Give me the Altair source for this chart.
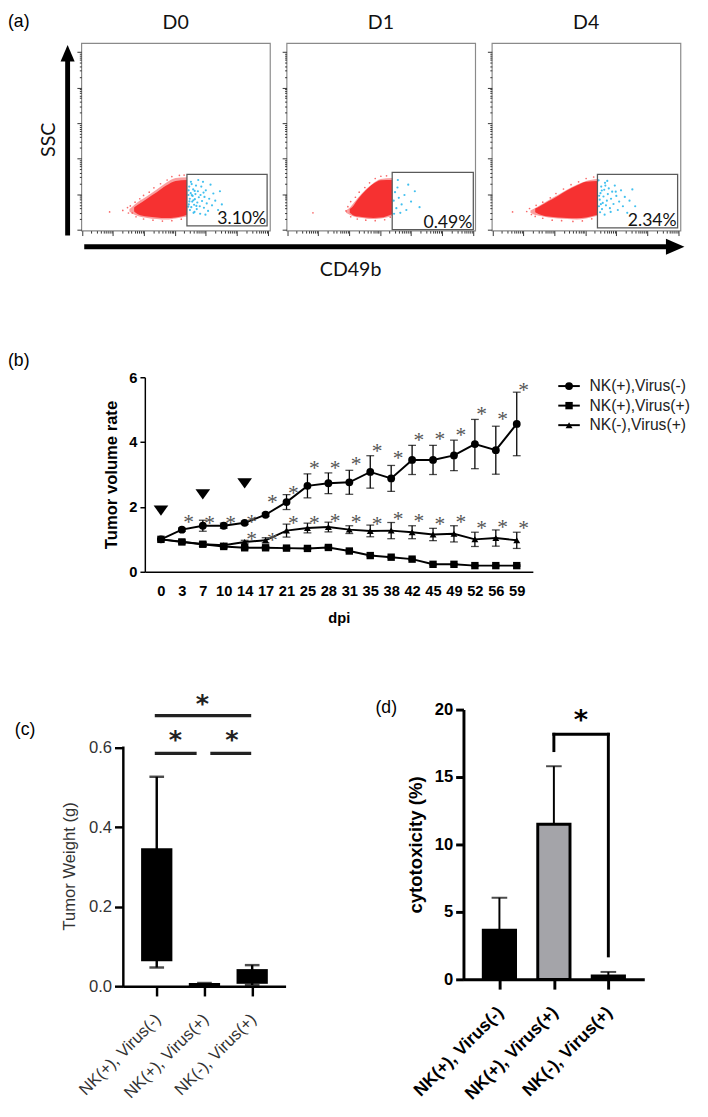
import json
import altair as alt
import pandas as pd

FONT = "Liberation Sans"
FLOW_FONT = "Lato"
RED = "#f52b2b"
BLUE = "#38bdee"

# ================= (a) flow cytometry =================
FLOW_TITLES = ["D0", "D1", "D4"]
FLOW_PCT = ["3.10%", "0.49%", "2.34%"]
GATE_X1 = [56.0, 56.0, 56.0]
GATE_X2 = [98.5, 99.0, 98.5]
GATE_Y1 = [2.6, 0.5, 1.5]
GATE_Y2 = [30.0, 31.0, 30.0]

FLOW_X_MAJOR = [0.3, 16.8, 33.2, 49.6, 66.0, 82.6, 99.2]
FLOW_Y_MAJOR = [0.5, 19.4, 38.4, 57.3, 76.3, 95.2]
LOG_MINOR = [0.301, 0.477, 0.602, 0.699, 0.778, 0.845, 0.903, 0.954]

# outer (sparse) and inner (dense) envelope of the red population
HALO_X = [[25.5, 27, 30, 35, 40, 45, 50, 56], [31.5, 33, 36, 40, 45, 50, 56],
          [20.5, 22, 26, 30, 35, 40, 45, 50, 56]]
HALO_HI = [[11.6, 12.8, 15.3, 18.5, 22, 25.5, 28, 28.5], [10.8, 11.8, 15.3, 20, 24.5, 27.5, 28],
           [10.8, 11.5, 13.8, 16.2, 19, 22, 24.5, 26.5, 27.5]]
HALO_LO = [[10.2, 9.2, 7.8, 6.8, 6.2, 5.9, 6.5, 7.5], [9.6, 8.8, 7.4, 6.8, 6.2, 6.5, 8],
           [9.5, 8.8, 7.8, 7, 6.5, 6.2, 6, 6.5, 8]]
CORE_X = [[28, 30, 35, 40, 45, 50, 56], [33.5, 35, 38, 42, 46, 50, 56], [23, 25, 30, 35, 40, 45, 50, 56]]
CORE_HI = [[12.4, 13.8, 17.2, 20.5, 24, 26.5, 27], [11.5, 12.8, 17, 21.5, 25, 26.8, 27],
           [11.8, 12.8, 15.7, 18.5, 21.5, 24, 26, 26.5]]
CORE_LO = [[10.2, 8.8, 7.5, 7, 6.7, 7, 8.5], [9.5, 8.4, 7.5, 7, 6.8, 7, 8.8], [9.8, 8.8, 7.5, 7, 6.7, 6.6, 7, 8.5]]

RED_DOTS = [
    [(15, 10), (22, 10.8), (24.5, 12.3), (25, 9.4), (26, 13.2), (28.5, 15.2), (31, 17), (33, 18.8),
     (36, 20.5), (38.5, 22.8), (42, 25), (45.5, 27), (48, 28.8), (52, 29.5), (54.5, 29.6), (29, 7.4),
     (33, 6.2), (38, 5.6), (43, 5.1), (48, 5.3), (53, 6.1), (27, 9.4)],
    [(14, 9.5), (31.5, 10.5), (32.5, 12.8), (34, 15.5), (36.5, 17.8), (38.5, 20.5), (41.5, 23), (44, 25.5),
     (47, 27.8), (50, 29), (53, 29.2), (34, 7.4), (37.5, 6.2), (42, 5.6), (47, 5.3), (52, 5.8), (55, 7.2)],
    [(11, 10), (18.5, 10.2), (20, 11.8), (21, 8.6), (23.5, 13.5), (27, 15.2), (31, 17.5), (34, 19.8),
     (38, 22.2), (42, 24.5), (46, 26), (50, 27.8), (54, 28.6), (23, 7.6), (27, 6.6), (32, 5.6), (37, 5.3),
     (43, 4.9), (48, 5.2), (53, 6.3)],
]
BLUE_DOTS = [
    [(57, 14), (57.5, 17), (58, 20), (58.3, 12.5), (58.8, 15.5), (59, 18.5), (59.3, 22), (59.8, 13.8),
     (60.2, 16.8), (60.5, 19.5), (60.8, 24), (61.2, 11.5), (61.5, 15), (61.8, 21), (62.3, 17.8),
     (62.8, 13), (63.2, 19), (63.6, 23.5), (64, 15.8), (64.5, 26), (65, 12.2), (65.3, 18), (66, 21.5),
     (66.5, 14.5), (67.2, 10.5), (67.8, 17), (68.5, 24.5), (69.3, 13.5), (70, 19.8), (71, 16),
     (72.5, 11), (73.5, 21), (74.5, 14), (57.2, 23.5), (58.1, 26), (60, 10), (62, 27), (59.5, 9.5),
     (63, 9), (65.8, 8.5), (57.6, 11), (61, 13.2), (58.5, 24.8), (64.8, 20.3), (56.8, 19),
     (56.9, 21.5), (57.3, 15.6), (58.6, 18.9), (59.4, 16.2), (60.1, 21.2), (56.7, 12.8)],
    [(56.8, 16), (57.5, 20.5), (58.2, 12), (58.8, 23), (59.5, 17.5), (60.3, 9.5), (61, 14), (62.5, 19),
     (63.5, 11), (64.5, 24.5), (66, 15.5), (68, 21), (57, 9), (59, 27), (70.5, 12.5)],
    [(56.8, 13), (57.2, 16.5), (57.6, 20), (58, 23.5), (58.4, 11.5), (58.8, 14.8), (59.2, 18.2),
     (59.6, 21.8), (60, 25.5), (60.5, 13.5), (61, 16), (61.5, 19.5), (62, 22.5), (62.6, 12), (63.2, 17),
     (63.8, 20.8), (64.5, 14.2), (65.2, 24), (66, 18.5), (66.8, 11), (67.5, 15.5), (68.5, 21.5),
     (69.5, 13), (70.5, 18), (71.8, 9.5), (73, 16), (74.5, 22), (76, 13), (57.4, 9.8), (59.8, 8.5),
     (61.2, 26.5), (63, 10), (56.6, 26.8), (60.2, 24), (65.7, 20.8), (56.9, 18.6), (57.8, 14.1),
     (58.3, 21.4)],
]

ARROW_V = [0.0, 0.91, 0.945]   # shaft start, shaft end, head centre
ARROW_H = [0.0, 0.975, 0.984]

# ================= (b) tumour growth =================
DAYS = ["0", "3", "7", "10", "14", "17", "21", "25", "28", "31", "35", "38", "42", "45", "49", "52", "56", "59"]
SERIES = ["NK(+),Virus(-)", "NK(+),Virus(+)", "NK(-),Virus(+)"]
S1_MEAN = [1.00, 1.30, 1.42, 1.42, 1.51, 1.76, 2.15, 2.65, 2.73, 2.76, 3.08, 2.88, 3.45, 3.45, 3.59, 3.94, 3.75, 4.56]
S1_ERR = [0.00, 0.05, 0.17, 0.08, 0.05, 0.05, 0.23, 0.37, 0.32, 0.37, 0.50, 0.40, 0.45, 0.45, 0.47, 0.76, 0.74, 0.98]
S1_STAR = [None, 1.63, 1.60, 1.60, 1.63, 2.23, 2.53, 3.28, 3.30, 3.40, 3.80, 3.60, 4.14, 4.19, 4.32, 4.96, 4.81, 5.69]
S2_MEAN = [1.00, 0.92, 0.85, 0.78, 0.74, 0.74, 0.73, 0.72, 0.75, 0.64, 0.50, 0.45, 0.39, 0.23, 0.23, 0.19, 0.19, 0.19]
S2_ERR = [0.00, 0.05, 0.06, 0.05, 0.04, 0.04, 0.03, 0.03, 0.04, 0.03, 0.03, 0.03, 0.03, 0.02, 0.02, 0.02, 0.02, 0.02]
S2_STAR = [None] * 18
S3_MEAN = [1.00, 0.93, 0.85, 0.82, 0.92, 0.97, 1.27, 1.35, 1.38, 1.30, 1.26, 1.27, 1.22, 1.15, 1.17, 1.00, 1.04, 0.97]
S3_ERR = [0.00, 0.05, 0.06, 0.06, 0.05, 0.08, 0.20, 0.15, 0.15, 0.12, 0.18, 0.25, 0.20, 0.19, 0.25, 0.22, 0.25, 0.25]
S3_STAR = [None, None, None, None, 1.10, 1.07, 1.60, 1.60, 1.66, 1.63, 1.56, 1.70, 1.66, 1.56, 1.63, 1.44, 1.48, 1.43]
TREAT_DAYS = ["0", "7", "14"]
TREAT_Y = [1.90, 2.40, 2.74]
LEG_LINE = [0.0, 15.2]
LEG_MARK = 7.6
LEG_TEXT = 22.0

# ================= (c) tumour weight =================
C_GROUPS = ["NK(+), Virus(-)", "NK(+), Virus(+)", "NK(-), Virus(+)"]
C_MIN = [0.047, 0.000, 0.003]
C_Q1 = [0.063, 0.000, 0.006]
C_Q3 = [0.347, 0.008, 0.043]
C_MAX = [0.527, 0.008, 0.053]
C_SIG_TOP = 0.681
C_SIG_LOW = 0.586
C_STAR_TOP = 0.728
C_STAR_LOW = 0.635

# ================= (d) cytotoxicity =================
D_GROUPS = C_GROUPS
D_MEAN = [3.65, 11.5, 0.25]
D_ERR = [2.40, 4.30, 0.30]
D_FILL = ["#000000", "#a4a4a9", "#000000"]
D_BRACKET = 18.17
D_LEFT_LEG = 16.96
D_RIGHT_LEG = 1.74
D_STAR = 19.7

TRI_UP = "M0,-1.1L0.9,1L-0.9,1Z"
TRI_RIGHT = "M1.1,0L-1,-0.9L-1,0.9Z"
TRI_DOWN = "M-1,-0.65L1,-0.65L0,0.75Z"


def tick_cond(majors, big, small):
    return {"condition": {"test": "indexof(%s, datum.value) >= 0" % json.dumps(majors), "value": big},
            "value": small}


def minors(majors):
    return [round(a + (b - a) * f, 3) for a, b in zip(majors[:-1], majors[1:]) for f in LOG_MINOR]


def flow_panel(i):
    sx = alt.Scale(domain=[0, 100], nice=False, zero=False)
    sy = alt.Scale(domain=[0, 100], nice=False, zero=False)
    ax_x = alt.Axis(values=FLOW_X_MAJOR + minors(FLOW_X_MAJOR), labels=False, domain=False, grid=False,
                    ticks=True, tickColor="#333", tickWidth=1, tickSize=tick_cond(FLOW_X_MAJOR, 5, 2.5),
                    title=None)
    ax_y = alt.Axis(values=FLOW_Y_MAJOR + minors(FLOW_Y_MAJOR), labels=False, domain=False, grid=False,
                    ticks=True, tickColor="#333", tickWidth=1, tickSize=tick_cond(FLOW_Y_MAJOR, 4.5, 2),
                    title=None)

    def X(f):
        return alt.X(f, type="quantitative", scale=sx, axis=ax_x)

    def Y(f):
        return alt.Y(f, type="quantitative", scale=sy, axis=ax_y)

    halo = alt.Chart(pd.DataFrame({"x": HALO_X[i], "hi": HALO_HI[i], "lo": HALO_LO[i]})).mark_area(
        color=RED, opacity=0.45, interpolate="monotone").encode(x=X("x"), y=Y("hi"), y2="lo")
    core = alt.Chart(pd.DataFrame({"x": CORE_X[i], "hi": CORE_HI[i], "lo": CORE_LO[i]})).mark_area(
        color=RED, opacity=0.95, interpolate="monotone").encode(x=X("x"), y=Y("hi"), y2="lo")
    red = alt.Chart(pd.DataFrame(RED_DOTS[i], columns=["x", "y"])).mark_circle(
        size=3, color=RED, opacity=0.7).encode(x=X("x"), y=Y("y"))
    blue = alt.Chart(pd.DataFrame(BLUE_DOTS[i], columns=["x", "y"])).mark_circle(
        size=5, color=BLUE, opacity=0.95).encode(x=X("x"), y=Y("y"))
    gdf = pd.DataFrame({"x1": [GATE_X1[i]], "x2": [GATE_X2[i]], "y1": [GATE_Y1[i]], "y2": [GATE_Y2[i]],
                        "pct": [FLOW_PCT[i]]})
    gate = alt.Chart(gdf).mark_rect(fillOpacity=0, stroke="#5a5a5a", strokeWidth=1.3).encode(
        x=X("x1"), x2="x2", y=Y("y1"), y2="y2")
    pct = alt.Chart(gdf).mark_text(align="right", baseline="alphabetic", font=FLOW_FONT, fontSize=18,
                                   color="#111", dx=-1, dy=-2).encode(x=X("x2"), y=Y("y1"), text="pct:N")
    return alt.layer(halo, core, red, blue, gate, pct).properties(
        width=193, height=192,
        title=alt.TitleParams(FLOW_TITLES[i], font=FLOW_FONT, fontSize=20, fontWeight="normal",
                              color="#111", offset=10.5, anchor="middle"),
        view=alt.ViewBackground(stroke="#8a8a8a", strokeWidth=1.2))


def spacer(w, label=None, **kw):
    ch = alt.Chart(pd.DataFrame({"v": [0]})).mark_point(opacity=0, size=1).properties(width=w, height=2)
    if label:
        ch = ch.properties(title=alt.TitleParams(label, anchor="start", font=FONT, fontSize=18,
                                                 fontWeight="normal", color="black", **kw))
    return ch


# ---------- arrows ----------
sa = alt.Scale(domain=[0, 1], nice=False, zero=False)
av_axis = alt.Axis(title="SSC", labels=False, ticks=False, domain=False, grid=False, titleFont=FLOW_FONT,
                   titleFontSize=20, titleFontWeight="normal", titleColor="#111", titlePadding=2)
av_shaft = alt.Chart(pd.DataFrame({"a": [ARROW_V[0]], "b": [ARROW_V[1]]})).mark_rule(
    strokeWidth=5, color="black").encode(
    x=alt.X(datum=0.5, type="quantitative", scale=sa, axis=None),
    y=alt.Y("a:Q", scale=sa, axis=av_axis), y2="b")
av_head = alt.Chart(pd.DataFrame({"h": [ARROW_V[2]]})).mark_point(
    shape=TRI_UP, filled=True, size=256, color="black", opacity=1).encode(
    x=alt.X(datum=0.5, type="quantitative", scale=sa, axis=None),
    y=alt.Y("h:Q", scale=sa, axis=av_axis))
arrowV = alt.layer(av_shaft, av_head).properties(width=14, height=197)

ah_axis = alt.Axis(title="CD49b", labels=False, ticks=False, domain=False, grid=False, titleFont=FLOW_FONT,
                   titleFontSize=20, titleFontWeight="normal", titleColor="#111", titlePadding=4.5, titleX=272)
sh = alt.Scale(domain=[-1, 1])
ah_shaft = alt.Chart(pd.DataFrame({"a": [ARROW_H[0]], "b": [ARROW_H[1]]})).mark_rule(
    strokeWidth=5, color="black").encode(
    x=alt.X("a:Q", scale=sa, axis=ah_axis), x2="b",
    y=alt.Y(datum=0, type="quantitative", scale=sh, axis=None))
ah_head = alt.Chart(pd.DataFrame({"h": [ARROW_H[2]]})).mark_point(
    shape=TRI_RIGHT, filled=True, size=324, color="black", opacity=1).encode(
    x=alt.X("h:Q", scale=sa, axis=ah_axis),
    y=alt.Y(datum=0, type="quantitative", scale=sh, axis=None))
arrowH = alt.layer(ah_shaft, ah_head).properties(width=614, height=17)

# ---------- (b) ----------
rows = []
for name, mean, err, star in zip(SERIES, [S1_MEAN, S2_MEAN, S3_MEAN], [S1_ERR, S2_ERR, S3_ERR],
                                 [S1_STAR, S2_STAR, S3_STAR]):
    for d, m, e, s in zip(DAYS, mean, err, star):
        rows.append({"day": d, "series": name, "mean": m, "lo": m - e, "hi": m + e, "star": s})
df_b = pd.DataFrame(rows)

ax_bx = alt.Axis(title="dpi", labelAngle=0, ticks=False, tickSize=0, domainColor="black", domainWidth=1.5,
                 labelFont=FONT, labelFontSize=15, labelFontWeight="bold", labelColor="black",
                 labelPadding=12, titleFont=FONT, titleFontSize=15, titleFontWeight="bold",
                 titleColor="black", titlePadding=13, grid=False)
ax_by = alt.Axis(title="Tumor volume rate", values=[0, 2, 4, 6], domainColor="black", domainWidth=1.5,
                 tickColor="black", tickWidth=1.5, tickSize=5, labelFont=FONT, labelFontSize=15,
                 labelFontWeight="bold", labelColor="black", labelPadding=3, titleFont=FONT,
                 titleFontSize=17, titleFontWeight="bold", titleColor="black", titlePadding=9, grid=False)
bx = alt.X("day:O", sort=DAYS, scale=alt.Scale(type="point", domain=DAYS, padding=0.77), axis=ax_bx)


def by(f):
    return alt.Y(f, type="quantitative", scale=alt.Scale(domain=[0, 6], nice=False), axis=ax_by)


shape_enc = alt.Shape("series:N", scale=alt.Scale(domain=SERIES, range=["circle", "square", "triangle-up"]),
                      legend=None)
size_enc = alt.Size("series:N", scale=alt.Scale(domain=SERIES, range=[64, 50, 64]), legend=None)

baseb = alt.Chart(df_b)
b_err = baseb.mark_rule(strokeWidth=1.3, color="black").encode(x=bx, y=by("lo"), y2="hi")
b_caph = baseb.mark_tick(size=8, thickness=1.3, color="black", orient="horizontal").encode(x=bx, y=by("hi"))
b_capl = baseb.mark_tick(size=8, thickness=1.3, color="black", orient="horizontal").encode(x=bx, y=by("lo"))
b_line = baseb.mark_line(strokeWidth=2, color="black").encode(x=bx, y=by("mean"), detail="series:N")
b_pts = baseb.mark_point(filled=True, opacity=1, color="black").encode(
    x=bx, y=by("mean"), shape=shape_enc, size=size_enc)
b_star = baseb.transform_filter("isValid(datum.star)").mark_text(
    text="*", font="Liberation Serif", fontSize=22, color="#555", dx=7, dy=10,
    baseline="alphabetic").encode(x=bx, y=by("star"))
b_treat = alt.Chart(pd.DataFrame({"day": TREAT_DAYS, "ty": TREAT_Y})).mark_point(
    shape=TRI_DOWN, filled=True, size=225, color="black", opacity=1).encode(x=bx, y=by("ty"))
chartB = alt.layer(b_err, b_caph, b_capl, b_line, b_pts, b_star, b_treat).properties(width=397, height=199)

lsx = alt.Scale(domain=[0, 100], nice=False, zero=False)
ly = alt.Y("series:N", sort=SERIES, scale=alt.Scale(type="point", domain=SERIES, padding=0.45), axis=None)
leg_df = pd.DataFrame({"series": SERIES})
l_rule = alt.Chart(leg_df).mark_rule(strokeWidth=2, color="black").encode(
    x=alt.X(datum=LEG_LINE[0], type="quantitative", scale=lsx, axis=None), x2=alt.X2(datum=LEG_LINE[1]), y=ly)
l_pts = alt.Chart(leg_df).mark_point(filled=True, opacity=1, color="black").encode(
    x=alt.X(datum=LEG_MARK, type="quantitative", scale=lsx, axis=None), y=ly, shape=shape_enc, size=size_enc)
l_txt = alt.Chart(leg_df).mark_text(align="left", baseline="middle", font=FONT, fontSize=16,
                                    color="#222").encode(
    x=alt.X(datum=LEG_TEXT, type="quantitative", scale=lsx, axis=None), y=ly, text="series:N")
legendB = alt.layer(l_rule, l_pts, l_txt).properties(width=145, height=58)

# ---------- (c) ----------
df_c = pd.DataFrame({"g": C_GROUPS, "mn": C_MIN, "q1": C_Q1, "q3": C_Q3, "mx": C_MAX})
ax_cx = alt.Axis(title=None, labelAngle=315, labelAlign="right", labelBaseline="middle", labelFont=FONT,
                 labelFontSize=17, labelColor="#333", labelPadding=21, labelOffset=1,
                 domainColor="black", domainWidth=2.5, tickColor="black", tickWidth=2.5, tickSize=10,
                 grid=False)
ax_cy = alt.Axis(title="Tumor Weight (g)", values=[0, 0.2, 0.4, 0.6], format=".1f", domain=False, ticks=True,
                 tickColor="black", tickWidth=2.5, tickSize=9, labelFont=FONT, labelFontSize=17,
                 labelColor="#333", labelPadding=3, titleFont=FONT, titleFontSize=17,
                 titleFontWeight="normal", titleColor="#333", titlePadding=10, titleY=160, grid=False)
cscale_x = alt.Scale(type="point", domain=C_GROUPS, padding=0.70)


def cx(f="g"):
    return alt.X(f, type="nominal", scale=cscale_x, axis=ax_cx)


def cy(f):
    return alt.Y(f, type="quantitative", scale=alt.Scale(domain=[0, 0.696], nice=False, zero=False), axis=ax_cy)


c_axis = alt.Chart(pd.DataFrame({"a": [0.0], "b": [0.6]})).mark_rule(
    strokeWidth=2.5, color="black", strokeCap="square").encode(x=alt.value(0), y=cy("a"), y2="b")
basec = alt.Chart(df_c)
c_whisk = basec.mark_rule(strokeWidth=2.5, color="black").encode(x=cx(), y=cy("mn"), y2="mx")
c_box = basec.mark_bar(width=32, color="black").encode(x=cx(), y=cy("q1"), y2="q3")
c_capt = basec.mark_tick(size=15, thickness=2.5, color="black", orient="horizontal").encode(x=cx(), y=cy("mx"))
c_capb = basec.mark_tick(size=15, thickness=2.5, color="black", orient="horizontal").encode(x=cx(), y=cy("mn"))

sig_layers = []
for g1, g2, yv, off1, off2 in [(0, 2, C_SIG_TOP, -2, -1), (0, 1, C_SIG_LOW, -2, -8), (1, 2, C_SIG_LOW, 6, -1)]:
    sdf = pd.DataFrame({"g1": [C_GROUPS[g1]], "g2": [C_GROUPS[g2]], "y": [yv]})
    sig_layers.append(alt.Chart(sdf).mark_rule(strokeWidth=3.3, color="#222", xOffset=off1, x2Offset=off2)
                      .encode(x=cx("g1"), x2="g2", y=cy("y")))
for g, yv, dxv in [(1, C_STAR_TOP, -2), (0, C_STAR_LOW, 19), (1, C_STAR_LOW, 28)]:
    sdf = pd.DataFrame({"g": [C_GROUPS[g]], "y": [yv]})
    sig_layers.append(alt.Chart(sdf).mark_text(text="*", font="DejaVu Sans", fontSize=26, fontWeight="bold",
                                               color="#222", baseline="alphabetic", dx=dxv, dy=15)
                      .encode(x=cx("g"), y=cy("y")))
chartC = alt.layer(c_axis, c_whisk, c_box, c_capt, c_capb, *sig_layers).properties(width=166, height=283)

# ---------- (d) ----------
df_d = pd.DataFrame({"g": D_GROUPS, "mean": D_MEAN, "top": [m + e for m, e in zip(D_MEAN, D_ERR)],
                     "fill": D_FILL})
ax_dx = alt.Axis(title=None, labelAngle=315, labelAlign="right", labelBaseline="middle", labelFont=FONT,
                 labelFontSize=18, labelFontWeight="bold", labelColor="black", labelPadding=21,
                 labelOffset=1, domainColor="black", domainWidth=3, tickColor="black", tickWidth=3,
                 tickSize=10, grid=False)
ax_dy = alt.Axis(title="cytotoxicity (%)", values=[0, 5, 10, 15, 20], domainColor="black", domainWidth=3,
                 tickColor="black", tickWidth=3, tickSize=8, labelFont=FONT, labelFontSize=17,
                 labelFontWeight="bold", labelColor="black", labelPadding=3, titleFont=FONT,
                 titleFontSize=19, titleFontWeight="bold", titleColor="black", titlePadding=9, grid=False)
dscale_x = alt.Scale(type="point", domain=D_GROUPS, padding=0.66)


def dxe(f="g"):
    return alt.X(f, type="nominal", scale=dscale_x, axis=ax_dx)


def dye(f):
    return alt.Y(f, type="quantitative", scale=alt.Scale(domain=[0, 20], nice=False), axis=ax_dy)


based = alt.Chart(df_d)
d_err = based.mark_rule(strokeWidth=2, color="black").encode(x=dxe(), y=dye("mean"), y2="top")
d_cap = based.mark_tick(size=16, thickness=2, color="black", orient="horizontal").encode(x=dxe(), y=dye("top"))
d_bar = based.mark_bar(width=33, stroke="black", strokeWidth=3).encode(
    x=dxe(), y=dye("mean"), color=alt.Color("fill:N", scale=None))
br = pd.DataFrame({"g1": [D_GROUPS[1], D_GROUPS[1], D_GROUPS[2]], "g2": [D_GROUPS[1], D_GROUPS[2], D_GROUPS[2]],
                   "y1": [D_LEFT_LEG, D_BRACKET, D_RIGHT_LEG], "y2": [D_BRACKET, D_BRACKET, D_BRACKET]})
d_br = alt.Chart(br).mark_rule(strokeWidth=3, color="black", strokeCap="square").encode(
    x=dxe("g1"), x2="g2", y=dye("y1"), y2="y2")
d_star = alt.Chart(pd.DataFrame({"g": [D_GROUPS[1]], "y": [D_STAR]})).mark_text(
    text="*", font="DejaVu Sans", fontSize=28, fontWeight="bold", color="black", baseline="alphabetic",
    dx=27.7, dy=16).encode(x=dxe("g"), y=dye("y"))
chartD = alt.layer(d_err, d_cap, d_bar, d_br, d_star).properties(width=185, height=276)

# ---------- layout ----------
rowA = alt.hconcat(spacer(22, "(a)", offset=12),
                   alt.hconcat(arrowV, flow_panel(0), spacing=0),
                   flow_panel(1), flow_panel(2), spacing=10)
rowArrow = alt.hconcat(spacer(75), arrowH, spacing=0)
rowB = alt.hconcat(spacer(86, "(b)", offset=8),
                   alt.hconcat(chartB, legendB, spacing=25), spacing=10)
rowCD = alt.hconcat(spacer(44, "(c)", offset=0, dx=7, dy=30),
                    chartC, spacer(104, "(d)", offset=0, dx=82, dy=7), chartD, spacing=10)

chart = alt.vconcat(
    alt.vconcat(rowA, rowArrow, spacing=0),
    alt.vconcat(rowB, rowCD, spacing=66),
    spacing=74,
).properties(padding={"left": 0, "top": -9, "right": 0, "bottom": 0}).configure_view(strokeWidth=0)

chart.save("out.html", embed_options={"renderer": "svg", "actions": False})
